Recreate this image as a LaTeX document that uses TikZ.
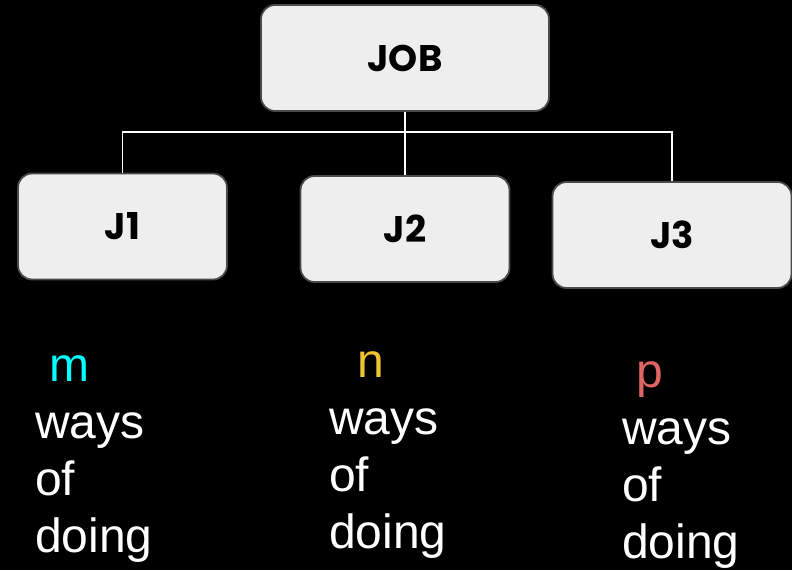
\documentclass[tikz,border=0pt]{standalone}
\usepackage{fontspec}
\setmainfont{Liberation Sans}
\newfontfamily\boxfont{Poppins}
\usepackage{xcolor}
\usepackage{tikz}

\definecolor{boxfill}{HTML}{EEEEEE}
\definecolor{boxline}{HTML}{4A4A4A}
\definecolor{mcol}{HTML}{00FFFF}
\definecolor{ncol}{HTML}{F1C232}
\definecolor{pcol}{HTML}{E06666}

\tikzset{
	jobbox/.style={draw=boxline, line width=1.8, fill=boxfill, rounded corners=14,
		minimum height=106, font=\boxfont\bfseries\fontsize{37}{44}\selectfont},
	link/.style={draw=white, line width=1.3},
	ways/.style={anchor=base west, align=left, text=white, inner sep=0,
		font=\fontsize{48}{57}\selectfont}
}

\begin{document}
\begin{tikzpicture}[x=1pt,y=-1pt]
\fill[black] (0,0) rectangle (792,570);
\useasboundingbox (0,0) rectangle (792,570);

\node[jobbox, minimum width=288] (job) at (405,58) {JOB};
\node[jobbox, minimum width=209] (j1) at (122.5,226.5) {J1};
\node[jobbox, minimum width=209] (j2) at (405,229) {J2};
\node[jobbox, minimum width=239] (j3) at (672,235) {J3};

\coordinate (bar) at (405,132);
\draw[link] (job.south) -- (j2.north);
\draw[link] (j1.north) |- (bar) -| (j3.north);

% anchor base = baseline of the last line
\node[ways] (txtm) at (35,552) {\hspace*{0.3em}\textcolor{mcol}{m}\\ways\\of\\doing};
\node[ways] (txtn) at (329,548) {\hspace*{0.58em}\textcolor{ncol}{n}\\ways\\of\\doing};
\node[ways] (txtp) at (622,558) {\hspace*{0.3em}\textcolor{pcol}{p}\\ways\\of\\doing};

\end{tikzpicture}
\end{document}
